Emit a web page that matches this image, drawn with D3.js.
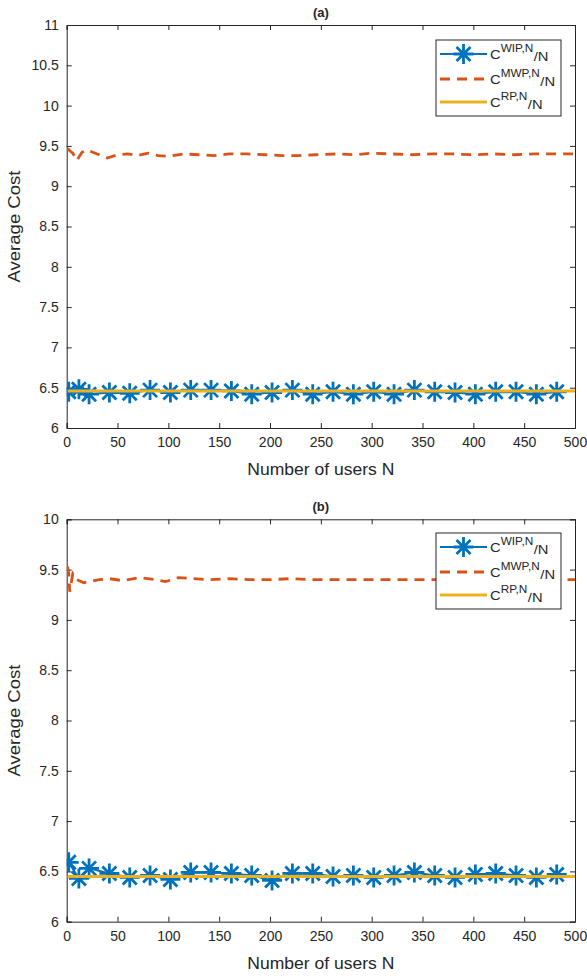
<!DOCTYPE html>
<html>
<head>
<meta charset="utf-8">
<script src="https://cdn.jsdelivr.net/npm/d3@7/dist/d3.min.js"></script>
<style>
  html, body { margin: 0; padding: 0; background: #fff; }
  svg { display: block; }
  text { font-family: "Liberation Sans", Arial, Helvetica, sans-serif; fill: #262626; }
</style>
</head>
<body>
<svg id="chart" width="587" height="978"></svg>
<script>
// ---------- data ----------
const xTicks = [0, 50, 100, 150, 200, 250, 300, 350, 400, 450, 500];
const yTicksA = [6, 6.5, 7, 7.5, 8, 8.5, 9, 9.5, 10, 10.5, 11];
const yTicksB = [6, 6.5, 7, 7.5, 8, 8.5, 9, 9.5, 10];
const yTickLabelsA = ["6", "6.5", "7", "7.5", "8", "8.5", "9", "9.5", "10", "10.5", "11"];
const yTickLabelsB = ["6", "6.5", "7", "7.5", "8", "8.5", "9", "9.5", "10"];

// WIP (star markers)
const wipN = [2, 12, 22, 42, 62, 82, 102, 122, 142, 162, 182, 202, 222, 242, 262, 282, 302, 322, 342, 362, 382, 402, 422, 442, 462, 482];
const wipA = [6.45, 6.48, 6.42, 6.44, 6.43, 6.47, 6.44, 6.47, 6.47, 6.46, 6.42, 6.44, 6.47, 6.42, 6.45, 6.42, 6.45, 6.42, 6.47, 6.45, 6.44, 6.42, 6.45, 6.45, 6.42, 6.45];
const wipB = [6.59, 6.43, 6.53, 6.48, 6.44, 6.46, 6.42, 6.49, 6.49, 6.48, 6.46, 6.41, 6.48, 6.48, 6.45, 6.46, 6.44, 6.46, 6.49, 6.46, 6.44, 6.47, 6.48, 6.46, 6.44, 6.47];

// MWP (dashed)
const mwpNA = [1, 3, 6, 10, 15, 20, 30, 40, 50, 60, 70, 80, 90, 100, 115, 130, 145, 160, 178, 195, 212, 228, 245, 265, 285, 300, 320, 340, 360, 380, 400, 420, 440, 460, 480, 500];
const mwpA = [9.47, 9.44, 9.41, 9.32, 9.42, 9.45, 9.40, 9.35, 9.39, 9.40, 9.38, 9.41, 9.38, 9.37, 9.40, 9.39, 9.38, 9.40, 9.40, 9.39, 9.38, 9.38, 9.39, 9.40, 9.39, 9.41, 9.40, 9.39, 9.40, 9.40, 9.39, 9.40, 9.39, 9.40, 9.40, 9.40];
const mwpNB = [1, 2, 3, 6, 10, 17, 22, 32, 42, 55, 72, 87, 97, 110, 124, 140, 160, 180, 200, 220, 240, 260, 280, 300, 320, 340, 360, 380, 400, 420, 440, 460, 480, 500];
const mwpB = [9.53, 9.46, 9.28, 9.46, 9.40, 9.37, 9.38, 9.40, 9.41, 9.39, 9.42, 9.40, 9.38, 9.42, 9.41, 9.40, 9.41, 9.40, 9.40, 9.41, 9.40, 9.40, 9.40, 9.40, 9.40, 9.40, 9.40, 9.40, 9.40, 9.40, 9.40, 9.40, 9.40, 9.40];

// RP (solid yellow)
const rpN = [1, 500];
const rpA = [6.46, 6.46];
const rpB = [6.45, 6.45];

const titles = ["(a)", "(b)"];
const legendNames = ["WIP,N", "MWP,N", "RP,N"];

// ---------- drawing ----------
const COL_WIP = "#0072BD", COL_MWP = "#D95319", COL_RP = "#EDB120", AX = "#262626";
const svg = d3.select("#chart");

function starPath(x, y, r, d) {
  return `M${x - r},${y}H${x + r}M${x},${y - r}V${y + r}` +
         `M${x - d},${y - d}L${x + d},${y + d}M${x - d},${y + d}L${x + d},${y - d}`;
}

function panel(cfg) {
  const { left, right, top, bottom, yDomain, yTicks, yLabels, title, wip, mwpN, mwp, rp, legendTop, clipId } = cfg;
  const x = d3.scaleLinear().domain([0, 500]).range([left, right]);
  const y = d3.scaleLinear().domain(yDomain).range([bottom, top]);
  const g = svg.append("g");

  g.append("clipPath").attr("id", clipId).append("rect")
    .attr("x", left).attr("y", top).attr("width", right - left).attr("height", bottom - top);

  const tk = 5;
  const axB = d3.axisBottom(x).tickValues(xTicks).tickSize(-tk).tickPadding(9).tickFormat(d3.format("d"));
  const axT = d3.axisTop(x).tickValues(xTicks).tickSize(-tk).tickFormat("");
  const axL = d3.axisLeft(y).tickValues(yTicks).tickSize(-tk).tickPadding(8).tickFormat((d, i) => yLabels[i]);
  const axR = d3.axisRight(y).tickValues(yTicks).tickSize(-tk).tickFormat("");

  function style(sel) {
    sel.select(".domain").attr("stroke", AX).attr("stroke-width", 1);
    sel.selectAll(".tick line").attr("stroke", AX).attr("stroke-width", 1);
    sel.selectAll(".tick text").attr("fill", AX).style("font-size", "14px")
      .style("font-family", '"Liberation Sans", Arial, sans-serif');
  }
  g.append("g").attr("transform", `translate(0,${bottom})`).call(axB).call(style);
  g.append("g").attr("transform", `translate(0,${top})`).call(axT).call(style);
  g.append("g").attr("transform", `translate(${left},0)`).call(axL).call(style);
  g.append("g").attr("transform", `translate(${right},0)`).call(axR).call(style);

  const plot = g.append("g").attr("clip-path", `url(#${clipId})`);
  const line = d3.line().x(d => x(d[0])).y(d => y(d[1]));

  // WIP
  const wipData = wipN.map((n, i) => [n, wip[i]]);
  plot.append("path").datum(wipData).attr("d", line)
    .attr("fill", "none").attr("stroke", COL_WIP).attr("stroke-width", 2);
  plot.append("g").selectAll("path").data(wipData).join("path")
    .attr("d", d => starPath(x(d[0]), y(d[1]), 10, 7))
    .attr("fill", "none").attr("stroke", COL_WIP).attr("stroke-width", 2.8);

  // MWP
  plot.append("path").datum(mwpN.map((n, i) => [n, mwp[i]])).attr("d", line)
    .attr("fill", "none").attr("stroke", COL_MWP).attr("stroke-width", 2.8)
    .attr("stroke-dasharray", "10,7");

  // RP
  plot.append("path").datum(rpN.map((n, i) => [n, rp[i]])).attr("d", line)
    .attr("fill", "none").attr("stroke", COL_RP).attr("stroke-width", 3);

  // title
  g.append("text").attr("x", (left + right) / 2).attr("y", top - 8)
    .attr("text-anchor", "middle").style("font-size", "13px").style("font-weight", "bold").text(title);

  // axis labels
  g.append("text").attr("x", (left + right) / 2).attr("y", bottom + 47)
    .attr("text-anchor", "middle").style("font-size", "16px")
    .attr("textLength", 147).attr("lengthAdjust", "spacingAndGlyphs").text("Number of users N");
  g.append("text").attr("transform", `translate(20,${(top + bottom) / 2}) rotate(-90)`)
    .attr("text-anchor", "middle").style("font-size", "16px")
    .attr("textLength", 112).attr("lengthAdjust", "spacingAndGlyphs").text("Average Cost");

  // legend
  const lx = 436, lw = 125, lh = 76;
  const lg = g.append("g");
  lg.append("rect").attr("x", lx).attr("y", legendTop).attr("width", lw).attr("height", lh)
    .attr("fill", "#fff").attr("stroke", AX).attr("stroke-width", 1);
  const rows = [legendTop + 14, legendTop + 39, legendTop + 62];
  const x0 = 440, x1 = 487;
  lg.append("line").attr("x1", x0).attr("x2", x1).attr("y1", rows[0]).attr("y2", rows[0])
    .attr("stroke", COL_WIP).attr("stroke-width", 2);
  lg.append("path").attr("d", starPath((x0 + x1) / 2, rows[0], 10, 7))
    .attr("fill", "none").attr("stroke", COL_WIP).attr("stroke-width", 2.8);
  lg.append("line").attr("x1", x0).attr("x2", x1).attr("y1", rows[1]).attr("y2", rows[1])
    .attr("stroke", COL_MWP).attr("stroke-width", 2.8).attr("stroke-dasharray", "10,7");
  lg.append("line").attr("x1", x0).attr("x2", x1).attr("y1", rows[2]).attr("y2", rows[2])
    .attr("stroke", COL_RP).attr("stroke-width", 3);

  legendNames.forEach((nm, i) => {
    const t = lg.append("text").attr("transform", `translate(490,${rows[i] + 5}) scale(1.18,1)`)
      .style("font-size", "12.5px");
    t.append("tspan").text("C");
    t.append("tspan").attr("dy", -6.6).style("font-size", "10px").text(nm);
    t.append("tspan").attr("dy", 9).attr("dx", 0.5).style("font-size", "12.5px").text("/N");
  });
}

panel({ left: 66.7, right: 575, top: 25, bottom: 428, yDomain: [6, 11], yTicks: yTicksA, yLabels: yTickLabelsA,
  title: titles[0], wip: wipA, mwpN: mwpNA, mwp: mwpA, rp: rpA, legendTop: 40, clipId: "clipA" });
panel({ left: 66.7, right: 575, top: 519.3, bottom: 921.7, yDomain: [6, 10], yTicks: yTicksB, yLabels: yTickLabelsB,
  title: titles[1], wip: wipB, mwpN: mwpNB, mwp: mwpB, rp: rpB, legendTop: 533, clipId: "clipB" });
</script>
</body>
</html>
